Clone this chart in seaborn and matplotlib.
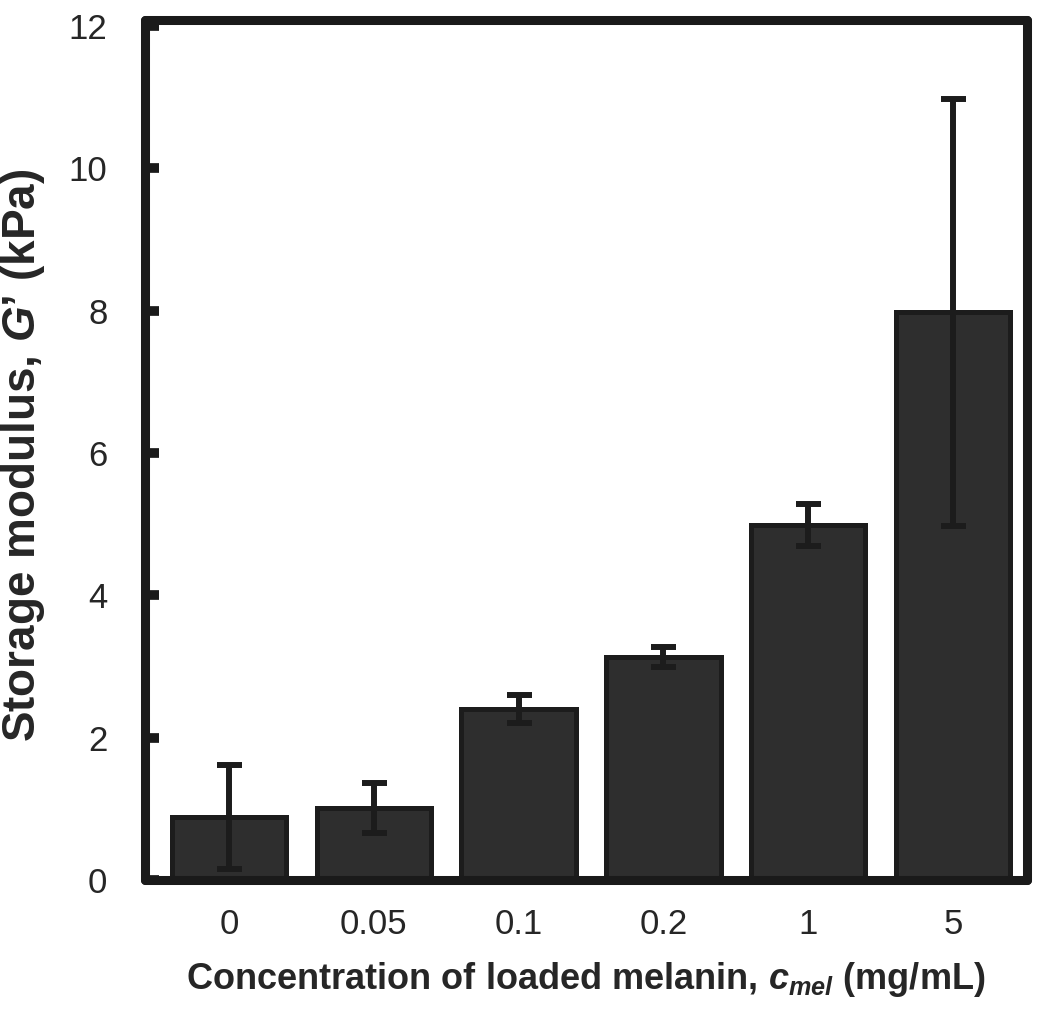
import matplotlib
matplotlib.use("Agg")
import matplotlib.pyplot as plt
import seaborn as sns
import pandas as pd

# data
conc = ["0", "0.05", "0.1", "0.2", "1", "5"]
g_storage = [0.88, 1.01, 2.40, 3.13, 4.99, 7.98]
g_err = [0.73, 0.35, 0.20, 0.14, 0.29, 3.00]

sns.set_style("white")
plt.rcParams['font.family'] = ['Liberation Sans', 'DejaVu Sans']
plt.rcParams['mathtext.fontset'] = 'custom'
plt.rcParams['mathtext.it'] = 'Liberation Sans:italic:bold'
plt.rcParams['mathtext.rm'] = 'Liberation Sans:bold'
plt.rcParams['mathtext.bf'] = 'Liberation Sans:bold'

df = pd.DataFrame({"conc": conc, "G": g_storage})

fig = plt.figure(figsize=(10.5, 10.15), dpi=100)
ax = fig.add_axes([0.138, 0.133, 0.840, 0.847])

sns.barplot(data=df, x="conc", y="G", color="#2e2e2e", width=0.79,
            edgecolor="#1c1c1c", linewidth=3.6, saturation=1, ax=ax)
eb = ax.errorbar(range(len(conc)), g_storage, yerr=g_err, fmt="none",
                 ecolor="#1c1c1c", elinewidth=4.3, capsize=9, capthick=4.3)
for c in eb[1]:
    c.set_solid_capstyle("round")

ax.set_ylim(0, 12.08)
ax.set_yticks(range(0, 13, 2))
ax.set_xlim(-0.58, 5.51)

for s in ax.spines.values():
    s.set_linewidth(6.5)
    s.set_color("#1a1a1a")
    s.set_capstyle("round")

ax.tick_params(axis="y", left=True, direction="in", length=10, width=7,
               color="#1a1a1a", labelsize=25, pad=27)
ax.tick_params(axis="x", bottom=False, length=0, labelsize=25, pad=20)

ax.set_xlabel(r"Concentration of loaded melanin, $\mathit{c}_{\mathit{mel}}$ (mg/mL)",
              fontsize=26, fontweight="bold", labelpad=14)
ax.set_ylabel(r"Storage modulus, $\mathit{G’}$ (kPa)",
              fontsize=33, fontweight="bold")
ax.yaxis.set_label_coords(-0.111, 0.494)

fig.savefig("out.png", dpi=100)
